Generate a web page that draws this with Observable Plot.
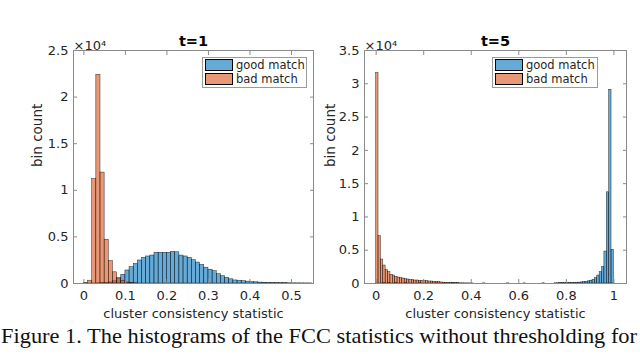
<!DOCTYPE html>
<html>
<head>
<meta charset="utf-8">
<script src="https://cdn.jsdelivr.net/npm/d3@7"></script>
<script src="https://cdn.jsdelivr.net/npm/@observablehq/plot@0.6"></script>
<style>
  body { margin: 0; background: #fff; }
  #wrap { position: relative; width: 640px; height: 354px; overflow: hidden; background: #fff; font-family: "DejaVu Sans", sans-serif; }
  .panel { position: absolute; top: 0; }
  .panel svg { overflow: visible; }
  .legend { position: absolute; box-sizing: border-box; background: #fff; border: 1px solid #9a9a9a; color: #262626; font-size: 11.5px; }
  .legend .sw { position: absolute; box-sizing: border-box; width: 28px; height: 12px; border: 1px solid #000; }
  .legend .lb { position: absolute; line-height: 14px; white-space: nowrap; }
  #caption { position: absolute; left: 0; top: 318px; }
</style>
</head>
<body>
<div id="wrap">
  <div class="panel" id="left" style="left:0"></div>
  <div class="panel" id="right" style="left:320px"></div>
  <div class="legend" id="legL" style="left:202px;top:57px;width:105px;height:31px"></div>
  <div class="legend" id="legR" style="left:492px;top:57px;width:106px;height:31px"></div>
  <div id="caption"></div>
</div>
<script>
// ---------- data ----------
const seriesNames = ["good match", "bad match"];
const seriesColors = ["#0072BD", "#D95319"];
const binWidth = 0.01;

// Panel t=1
const leftTitle = "t=1";
const leftGoodBins = [0.03,0.04,0.05,0.06,0.07,0.08,0.09,0.10,0.11,0.12,0.13,0.14,0.15,0.16,0.17,0.18,0.19,0.20,0.21,0.22,0.23,0.24,0.25,0.26,0.27,0.28,0.29,0.30,0.31,0.32,0.33,0.34,0.35,0.36,0.37,0.38,0.39,0.40,0.41,0.42,0.43,0.44,0.45,0.46,0.47,0.48,0.49,0.50,0.51,0.52,0.53,0.54];
const leftGoodCounts = [10,30,60,120,250,500,930,1400,1750,2100,2470,2750,2900,3000,3300,3300,3300,3300,3400,3350,3000,2900,2750,2500,2250,2000,1700,1480,1320,1000,780,620,450,330,300,250,200,160,130,100,80,60,50,40,35,30,25,20,18,15,12,10];
const leftBadBins = [0.00,0.01,0.02,0.03,0.04,0.05,0.06,0.07,0.08,0.09,0.10,0.11,0.12];
const leftBadCounts = [50,300,11200,22400,11900,4700,2400,1200,600,300,100,40,10];
const leftXTicks = [0,0.1,0.2,0.3,0.4,0.5];
const leftYTicks = [0,5000,10000,15000,20000,25000];

// Panel t=5
const rightTitle = "t=5";
const rightGoodBins = [0.03,0.05,0.08,0.12,0.18,0.25,0.32,0.45,0.55,0.62,0.70,0.75,0.76,0.77,0.78,0.79,0.80,0.81,0.82,0.83,0.84,0.85,0.86,0.87,0.88,0.89,0.90,0.91,0.92,0.93,0.94,0.95,0.96,0.97,0.98,0.99];
const rightGoodCounts = [80,60,50,40,30,30,20,20,20,20,30,30,35,40,45,50,50,60,70,80,100,130,160,200,260,330,420,550,800,1200,1700,2450,4800,13700,29100,5050];
const rightBadBins = [0.00,0.01,0.02,0.03,0.04,0.05,0.06,0.07,0.08,0.09,0.10,0.11,0.12,0.13,0.14,0.15,0.16,0.17,0.18,0.19,0.20,0.21,0.22,0.23,0.24,0.25,0.26,0.27,0.28,0.29,0.30,0.31,0.32,0.33,0.34,0.35,0.36,0.37,0.38,0.39,0.40];
const rightBadCounts = [31600,7100,3600,2700,2000,1700,1300,1200,1000,900,800,750,650,600,550,500,450,450,400,400,350,350,300,300,250,200,200,150,120,100,80,70,60,50,40,30,30,20,20,15,10];
const rightXTicks = [0,0.2,0.4,0.6,0.8,1];
const rightYTicks = [0,5000,10000,15000,20000,25000,30000,35000];

const xLabel = "cluster consistency statistic";
const yLabel = "bin count";
const multiplier = "×10⁴";
const captionText = "Figure 1. The histograms of the FCC statistics without thresholding for";

// ---------- drawing ----------
const ink = "#262626";
const axisGrey = "#8a8a8a";
function toRows(bins, counts) {
  return bins.map((b, i) => ({x1: b, x2: b + binWidth, y: counts[i]}));
}

function panel(o) {
  const good = toRows(o.goodBins, o.goodCounts);
  const bad = toRows(o.badBins, o.badCounts);
  return Plot.plot({
    width: 320,
    height: 322,
    marginTop: 50,
    marginBottom: 39,
    marginLeft: o.marginLeft,
    marginRight: o.marginRight,
    style: {fontFamily: "DejaVu Sans, sans-serif", color: ink, background: "transparent"},
    x: {domain: o.xDomain},
    y: {domain: o.yDomain},
    marks: [
      Plot.rectY(good, {x1: "x1", x2: "x2", y: "y", inset: 0, fill: seriesColors[0], fillOpacity: 0.6, stroke: "#000", strokeWidth: 0.5, strokeOpacity: 0.8}),
      Plot.rectY(bad, {x1: "x1", x2: "x2", y: "y", inset: 0, fill: seriesColors[1], fillOpacity: 0.6, stroke: "#000", strokeWidth: 0.5, strokeOpacity: 0.8}),
      Plot.frame({stroke: axisGrey, strokeWidth: 1}),
      // tick marks + tick labels (MATLAB box: inward ticks on all four sides)
      Plot.axisY({anchor: "left", ticks: o.yTicks, tickSize: -4, tickPadding: 9, stroke: axisGrey,
        tickFormat: d => String(d / 1e4), fontSize: 13, color: ink, label: null}),
      Plot.axisY({anchor: "right", ticks: o.yTicks, tickSize: -4, stroke: axisGrey, tickFormat: () => "", label: null}),
      Plot.axisX({anchor: "bottom", ticks: o.xTicks, tickSize: -4, tickPadding: 11, stroke: axisGrey,
        tickFormat: d => String(d), fontSize: 13, color: ink, label: null}),
      Plot.axisX({anchor: "top", ticks: o.xTicks, tickSize: -4, stroke: axisGrey, tickFormat: () => "", label: null}),
      // axis titles
      Plot.text([yLabel], {frameAnchor: "left", rotate: -90, dx: o.yLabelDx, fontSize: 13.5, fill: ink}),
      Plot.text([xLabel], {frameAnchor: "bottom", dy: 34, fontSize: 13, fill: ink}),
      Plot.text([o.title], {frameAnchor: "top", dy: -5, lineAnchor: "bottom", fontWeight: "bold", fontSize: 14.5, fill: "#000"}),
      Plot.text([multiplier], {frameAnchor: "top-left", dy: -1, lineAnchor: "bottom", textAnchor: "start", fontSize: 13, fill: ink})
    ]
  });
}

document.getElementById("left").appendChild(panel({
  goodBins: leftGoodBins, goodCounts: leftGoodCounts, badBins: leftBadBins, badCounts: leftBadCounts,
  xDomain: [-0.025, 0.553], yDomain: [0, 25000], xTicks: leftXTicks, yTicks: leftYTicks,
  marginLeft: 73, marginRight: 7, title: leftTitle, yLabelDx: -36
}));
document.getElementById("right").appendChild(panel({
  goodBins: rightGoodBins, goodCounts: rightGoodCounts, badBins: rightBadBins, badCounts: rightBadCounts,
  xDomain: [-0.049, 1.053], yDomain: [0, 35000], xTicks: rightXTicks, yTicks: rightYTicks,
  marginLeft: 44, marginRight: 14, title: rightTitle, yLabelDx: -34
}));

// legends (MATLAB-style boxed legend)
function legend(el) {
  seriesNames.forEach((name, i) => {
    const sw = document.createElement("div");
    sw.className = "sw";
    sw.style.left = "2px";
    sw.style.top = (1 + i * 14) + "px";
    sw.style.backgroundColor = i === 0 ? "rgba(0,114,189,0.6)" : "rgba(217,83,25,0.6)";
    el.appendChild(sw);
    const lb = document.createElement("div");
    lb.className = "lb";
    lb.style.left = "33px";
    lb.style.top = (0 + i * 14) + "px";
    lb.textContent = name;
    el.appendChild(lb);
  });
}
legend(document.getElementById("legL"));
legend(document.getElementById("legR"));

// caption
const ns = "http://www.w3.org/2000/svg";
const cap = document.createElementNS(ns, "svg");
cap.setAttribute("width", 640);
cap.setAttribute("height", 36);
const t = document.createElementNS(ns, "text");
t.setAttribute("x", 1);
t.setAttribute("y", 25);
t.setAttribute("textLength", 636);
t.setAttribute("lengthAdjust", "spacingAndGlyphs");
t.setAttribute("font-family", "Liberation Serif, Times New Roman, serif");
t.setAttribute("font-size", 21);
t.setAttribute("fill", "#111");
t.textContent = captionText;
cap.appendChild(t);
document.getElementById("caption").appendChild(cap);
</script>
</body>
</html>
